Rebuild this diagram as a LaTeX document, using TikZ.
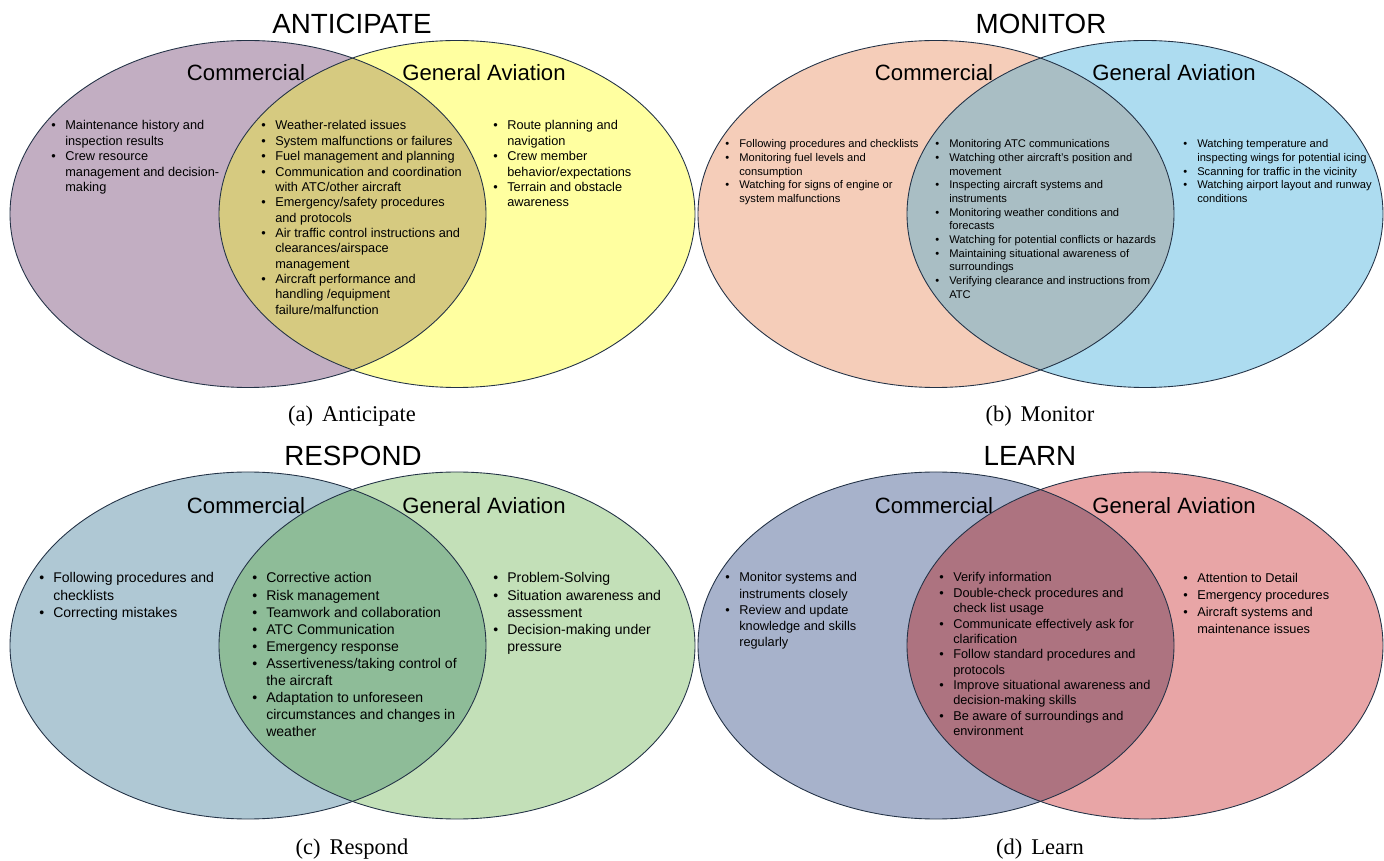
\documentclass[tikz,border=0pt]{standalone}
\usepackage{fontspec}
\setmainfont{Liberation Sans}
\newfontfamily\capfont{Liberation Serif}

\definecolor{purA}{RGB}{194,174,194}
\definecolor{yelA}{RGB}{255,255,160}
\definecolor{midA}{RGB}{214,202,128}
\definecolor{salB}{RGB}{245,205,185}
\definecolor{bluB}{RGB}{173,220,240}
\definecolor{midB}{RGB}{169,190,196}
\definecolor{bluC}{RGB}{175,200,212}
\definecolor{grnC}{RGB}{195,224,184}
\definecolor{midC}{RGB}{142,188,152}
\definecolor{bluD}{RGB}{167,178,203}
\definecolor{redD}{RGB}{232,165,166}
\definecolor{midD}{RGB}{173,115,128}
\definecolor{rim}{RGB}{35,50,70}

% font sizes of the bullet lists
\newcommand{\fsA}{\fontsize{7.26}{8.73}\selectfont}
\newcommand{\fsB}{\fontsize{6.35}{7.77}\selectfont}
\newcommand{\fsC}{\fontsize{7.99}{9.72}\selectfont}
\newcommand{\fsD}{\fontsize{7.26}{8.73}\selectfont}
\newcommand{\fsDl}{\fontsize{7.26}{9.18}\selectfont}
\newcommand{\fsDr}{\fontsize{7.26}{9.52}\selectfont}
\newcommand{\bu}{\makebox[7.94pt][l]{\textbullet}}

% two overlapping ellipses: x offset, y centre, left, right, overlap colour
\newcommand{\drawvenn}[5]{%
  \fill[#3] (#1+248,#2) ellipse [x radius=238, y radius=173.5];
  \fill[#4] (#1+457,#2) ellipse [x radius=238, y radius=173.5];
  \begin{scope}
    \clip (#1+248,#2) ellipse [x radius=238, y radius=173.5];
    \fill[#5] (#1+457,#2) ellipse [x radius=238, y radius=173.5];
  \end{scope}
  \draw[rim, line width=0.5pt] (#1+248,#2) ellipse [x radius=238, y radius=173.5];
  \draw[rim, line width=0.5pt] (#1+457,#2) ellipse [x radius=238, y radius=173.5];
}

\begin{document}
\begin{tikzpicture}[x=0.02cm, y=-0.02cm,
    lst/.style={anchor=base west, inner sep=0pt},
    ttl/.style={anchor=base, inner sep=0pt, font=\fontsize{15.8}{18}\selectfont},
    lab/.style={anchor=base, inner sep=0pt, font=\fontsize{12.6}{15}\selectfont},
    subcap/.style={anchor=base, inner sep=0pt, font=\capfont\fontsize{12.8}{15}\selectfont}]
  \def\dx{688}
  \def\dy{431.5}
  \useasboundingbox (0,0) rectangle (1384,861);

  \drawvenn{0}{214}{purA}{yelA}{midA}
  \drawvenn{\dx}{214}{salB}{bluB}{midB}
  \drawvenn{0}{214+\dy}{bluC}{grnC}{midC}
  \drawvenn{\dx}{214+\dy}{bluD}{redD}{midD}

  % (a) anticipate
  \node[ttl] (tA) at (352,34) {ANTICIPATE};
  \node[lab] (cA) at (246,81) {Commercial};
  \node[lab] (gA) at (484,81) {General Aviation};
  \node[lst, font=\fsA] (lA) at (51,130) {\begin{tabular}[t]{@{}l@{}l@{}}
    \bu & Maintenance history and\\
        & inspection results\\
    \bu & Crew resource\\
        & management and decision-\\
        & making
  \end{tabular}};
  \node[lst, font=\fsA] (mA) at (261,130) {\begin{tabular}[t]{@{}l@{}l@{}}
    \bu & Weather-related issues\\
    \bu & System malfunctions or failures\\
    \bu & Fuel management and planning\\
    \bu & Communication and coordination\\
        & with ATC/other aircraft\\
    \bu & Emergency/safety procedures\\
        & and protocols\\
    \bu & Air traffic control instructions and\\
        & clearances/airspace\\
        & management\\
    \bu & Aircraft performance and\\
        & handling /equipment\\
        & failure/malfunction
  \end{tabular}};
  \node[lst, font=\fsA] (rA) at (493,130) {\begin{tabular}[t]{@{}l@{}l@{}}
    \bu & Route planning and\\
        & navigation\\
    \bu & Crew member\\
        & behavior/expectations\\
    \bu & Terrain and obstacle\\
        & awareness
  \end{tabular}};
  \node[subcap] (kA) at (352,422) {(a)\hspace{0.4em}Anticipate};

  % (b) monitor
  \node[ttl] (tB) at (1041,34) {MONITOR};
  \node[lab] (cB) at (934,81) {Commercial};
  \node[lab] (gB) at (1174,81) {General Aviation};
  \node[lst, font=\fsB] (lB) at (725,148) {\begin{tabular}[t]{@{}l@{}l@{}}
    \bu & Following procedures and checklists\\
    \bu & Monitoring fuel levels and\\
        & consumption\\
    \bu & Watching for signs of engine or\\
        & system malfunctions
  \end{tabular}};
  \node[lst, font=\fsB] (mB) at (935,148) {\begin{tabular}[t]{@{}l@{}l@{}}
    \bu & Monitoring ATC communications\\
    \bu & Watching other aircraft's position and\\
        & movement\\
    \bu & Inspecting aircraft systems and\\
        & instruments\\
    \bu & Monitoring weather conditions and\\
        & forecasts\\
    \bu & Watching for potential conflicts or hazards\\
    \bu & Maintaining situational awareness of\\
        & surroundings\\
    \bu & Verifying clearance and instructions from\\
        & ATC
  \end{tabular}};
  \node[lst, font=\fsB] (rB) at (1183,148) {\begin{tabular}[t]{@{}l@{}l@{}}
    \bu & Watching temperature and\\
        & inspecting wings for potential icing\\
    \bu & Scanning for traffic in the vicinity\\
    \bu & Watching airport layout and runway\\
        & conditions
  \end{tabular}};
  \node[subcap] (kB) at (1040,422) {(b)\hspace{0.4em}Monitor};

  % (c) respond
  \node[ttl] (tC) at (353,466) {RESPOND};
  \node[lab] (cC) at (246,514) {Commercial};
  \node[lab] (gC) at (484,514) {General Aviation};
  \node[lst, font=\fsC] (lC) at (39,583) {\begin{tabular}[t]{@{}l@{}l@{}}
    \bu & Following procedures and\\
        & checklists\\
    \bu & Correcting mistakes
  \end{tabular}};
  \node[lst, font=\fsC] (mC) at (252,583) {\begin{tabular}[t]{@{}l@{}l@{}}
    \bu & Corrective action\\
    \bu & Risk management\\
    \bu & Teamwork and collaboration\\
    \bu & ATC Communication\\
    \bu & Emergency response\\
    \bu & Assertiveness/taking control of\\
        & the aircraft\\
    \bu & Adaptation to unforeseen\\
        & circumstances and changes in\\
        & weather
  \end{tabular}};
  \node[lst, font=\fsC] (rC) at (493,583) {\begin{tabular}[t]{@{}l@{}l@{}}
    \bu & Problem-Solving\\
    \bu & Situation awareness and\\
        & assessment\\
    \bu & Decision-making under\\
        & pressure
  \end{tabular}};
  \node[subcap] (kC) at (352,854) {(c)\hspace{0.4em}Respond};

  % (d) learn
  \node[ttl] (tD) at (1030,466) {LEARN};
  \node[lab] (cD) at (934,514) {Commercial};
  \node[lab] (gD) at (1174,514) {General Aviation};
  \node[lst, font=\fsDl] (lD) at (725,582) {\begin{tabular}[t]{@{}l@{}l@{}}
    \bu & Monitor systems and\\
        & instruments closely\\
    \bu & Review and update\\
        & knowledge and skills\\
        & regularly
  \end{tabular}};
  \node[lst, font=\fsD] (mD) at (939,582) {\begin{tabular}[t]{@{}l@{}l@{}}
    \bu & Verify information\\
    \bu & Double-check procedures and\\
        & check list usage\\
    \bu & Communicate effectively ask for\\
        & clarification\\
    \bu & Follow standard procedures and\\
        & protocols\\
    \bu & Improve situational awareness and\\
        & decision-making skills\\
    \bu & Be aware of surroundings and\\
        & environment
  \end{tabular}};
  \node[lst, font=\fsDr] (rD) at (1183,583) {\begin{tabular}[t]{@{}l@{}l@{}}
    \bu & Attention to Detail\\
    \bu & Emergency procedures\\
    \bu & Aircraft systems and\\
        & maintenance issues
  \end{tabular}};
  \node[subcap] (kD) at (1040,854) {(d)\hspace{0.4em}Learn};
\end{tikzpicture}
\end{document}
